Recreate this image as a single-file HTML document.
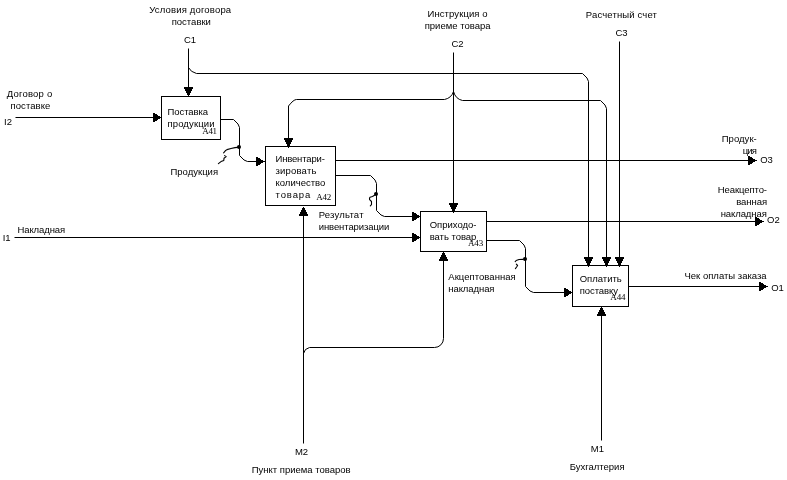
<!DOCTYPE html>
<html lang="ru">
<head>
<meta charset="utf-8">
<title>IDEF0 A4</title>
<style>
html,body{margin:0;padding:0;background:#fff;}
body{width:787px;height:480px;overflow:hidden;}
svg{display:block;}
.s{font-family:"Liberation Sans",sans-serif;font-size:9.5px;fill:#000;}
.n{font-family:"Liberation Serif",serif;font-size:9px;fill:#000;}
.l{fill:none;stroke:#000;stroke-width:1;shape-rendering:crispEdges;}
.p{fill:none;stroke:#000;stroke-width:1;stroke-linejoin:round;}
.c{fill:none;stroke:#000;stroke-width:1.1;stroke-linejoin:round;stroke-linecap:round;}
.d{fill:#000;}
.a{fill:#000;stroke:none;shape-rendering:crispEdges;}
</style>
</head>
<body>
<svg width="787" height="480" viewBox="0 0 787 480">
<rect x="0" y="0" width="787" height="480" fill="#fff"/>
<g class="l">
<rect x="161.5" y="96.5" width="59" height="43"/>
<rect x="265.5" y="146.5" width="70" height="59"/>
<rect x="420.5" y="211.5" width="66" height="40"/>
<rect x="572.5" y="265.5" width="56" height="41"/>
</g>
<g class="p">
<path d="M188.5 48.5L188.5 96.5"/>
<path d="M188.5 67.5Q190.5 72.0 196.5 73.5L582.5 73.5Q588.5 78.5 588.5 81.5L588.5 265.5"/>
<path d="M453.5 52.5L453.5 211.5"/>
<path d="M453.5 91.5Q451.5 98.0 444.5 99.5L296.5 99.5Q293.5 99.5 288.5 106.0L288.5 146.5"/>
<path d="M453.5 91.5Q455.5 99.0 462.5 100.5L600.5 100.5Q606.5 105.5 606.5 108.5L606.5 265.5"/>
<path d="M619.5 41.5L619.5 265.5"/>
<path d="M15.5 117.5L161.5 117.5"/>
<path d="M220.5 119.5L233.5 119.5Q239.5 124.5 239.5 127.5L239.5 155.5Q244.5 161.5 247.5 161.5L265.5 161.5"/>
<path d="M335.5 160.5L755.5 160.5"/>
<path d="M335.5 175.5L370.5 175.5Q376.5 180.5 376.5 183.5L376.5 210.5Q381.5 216.5 384.5 216.5L420.5 216.5"/>
<path d="M14.5 237.5L420.5 237.5"/>
<path d="M486.5 221.5L762.5 221.5"/>
<path d="M486.5 240.5L519.5 240.5Q525.5 245.5 525.5 248.5L525.5 286.5Q530.5 292.5 533.5 292.5L572.5 292.5"/>
<path d="M628.5 286.5L766.5 286.5"/>
<path d="M303.5 443.5L303.5 208.5"/>
<path d="M303.5 353.5Q304.5 348.5 309.5 347.5L434.5 347.5A9 9 0 0 0 443.5 338.5L443.5 251.5"/>
<path d="M601.5 440.5L601.5 306.5"/>
</g>
<g class="c">
<path d="M237.5 147.4L235 147.6L231 148.5L227 149.6L225.3 150.8L223.6 152.8M224.6 155.6L226.2 156.6L224 158.3L223.8 160.4L221 161.6L218.4 163.6"/>
<path d="M374.5 195.3L372.5 196.5L370 197.2L369.5 198.3L369.6 199.6L371.5 201.5L371.5 204.6L370.3 205.8"/>
<path d="M523 259.4L519 259.5L516.2 260.5L515.2 261.7M516.3 264.2L517.6 265.5L516.6 267L515.4 268.6"/>
</g>
<g class="a">
<polygon points="188.5,97 183.5,87 193.5,87"/>
<polygon points="588.5,267 583.5,257 593.5,257"/>
<polygon points="453.5,213 448.5,203 458.5,203"/>
<polygon points="288.5,148 283.5,138 293.5,138"/>
<polygon points="606.5,267 601.5,257 611.5,257"/>
<polygon points="619.5,267 614.5,257 624.5,257"/>
<polygon points="162,117.5 153,112.5 153,122.5"/>
<polygon points="265,161.5 256,156.5 256,166.5"/>
<polygon points="757,160.5 748,155.5 748,165.5"/>
<polygon points="421,216.5 412,211.5 412,221.5"/>
<polygon points="421,237.5 412,232.5 412,242.5"/>
<polygon points="764,221.5 755,216.5 755,226.5"/>
<polygon points="573,292.5 564,287.5 564,297.5"/>
<polygon points="768,286.5 759,281.5 759,291.5"/>
<polygon points="303.0,207 304.0,207 308.5,216 298.5,216"/>
<polygon points="443.5,251 438.5,261 448.5,261"/>
<polygon points="601.5,306 596.5,316 606.5,316"/>
</g>
<g class="d">
<circle cx="239" cy="147" r="2"/>
<circle cx="376" cy="194" r="2"/>
<circle cx="525" cy="259" r="2"/>
</g>
<g>
<text class="s" x="149.2" y="13.0" style="letter-spacing:0.17px">Условия договора</text>
<text class="s" x="171.7" y="24.7">поставки</text>
<text class="s" x="184.0" y="43.0">C1</text>
<text class="s" x="427.5" y="16.7" style="letter-spacing:0.09px">Инструкция о</text>
<text class="s" x="424.7" y="28.7">приеме товара</text>
<text class="s" x="451.5" y="46.7">C2</text>
<text class="s" x="585.8" y="17.5" style="letter-spacing:0.15px">Расчетный счет</text>
<text class="s" x="615.4" y="35.8">C3</text>
<text class="s" x="6.7" y="97.0" style="letter-spacing:0.22px">Договор о</text>
<text class="s" x="10.5" y="108.7" style="letter-spacing:0.07px">поставке</text>
<text class="s" x="4.0" y="124.7">I2</text>
<text class="s" x="17.5" y="232.5" style="letter-spacing:-0.10px">Накладная</text>
<text class="s" x="2.7" y="241.3">I1</text>
<text class="s" x="167.5" y="115.0" style="letter-spacing:-0.07px">Поставка</text>
<text class="s" x="167.5" y="126.7" style="letter-spacing:0.12px">продукции</text>
<text class="n" x="202.3" y="133.6" style="letter-spacing:-0.35px">A41</text>
<text class="s" x="170.5" y="174.7">Продукция</text>
<text class="s" x="275.5" y="161.7" style="letter-spacing:-0.17px">Инвентари-</text>
<text class="s" x="275.5" y="173.7" style="letter-spacing:0.19px">зировать</text>
<text class="s" x="275.5" y="185.8">количество</text>
<text class="s" x="275.5" y="198.0" style="letter-spacing:0.90px">товара</text>
<text class="n" x="316.3" y="199.7" style="letter-spacing:-0.25px">A42</text>
<text class="s" x="318.7" y="218.0" style="letter-spacing:0.20px">Результат</text>
<text class="s" x="318.7" y="229.7" style="letter-spacing:-0.09px">инвентаризации</text>
<text class="s" x="429.7" y="228.0">Оприходо-</text>
<text class="s" x="429.7" y="239.7" style="letter-spacing:-0.04px">вать товар</text>
<text class="n" x="468.0" y="246.0" style="letter-spacing:-0.15px">A43</text>
<text class="s" x="448.3" y="280.0" style="letter-spacing:0.04px">Акцептованная</text>
<text class="s" x="448.3" y="291.7" style="letter-spacing:-0.08px">накладная</text>
<text class="s" x="579.7" y="281.7">Оплатить</text>
<text class="s" x="579.7" y="293.7" style="letter-spacing:-0.06px">поставку</text>
<text class="n" x="610.3" y="300.3" style="letter-spacing:-0.15px">A44</text>
<text class="s" x="721.7" y="142.0" style="letter-spacing:0.05px">Продук-</text>
<text class="s" x="742.8" y="153.5" style="letter-spacing:-0.90px">ция</text>
<text class="s" x="760.2" y="163.0">O3</text>
<text class="s" x="717.8" y="192.5" style="letter-spacing:-0.09px">Неакцепто-</text>
<text class="s" x="736.2" y="204.7" style="letter-spacing:-0.04px">ванная</text>
<text class="s" x="720.7" y="216.7" style="letter-spacing:-0.09px">накладная</text>
<text class="s" x="767.1" y="223.0">O2</text>
<text class="s" x="684.5" y="278.7">Чек оплаты заказа</text>
<text class="s" x="771.2" y="290.8">O1</text>
<text class="s" x="294.9" y="454.7">M2</text>
<text class="s" x="251.7" y="472.8">Пункт приема товаров</text>
<text class="s" x="590.8" y="451.7">M1</text>
<text class="s" x="569.7" y="469.7">Бухгалтерия</text>
</g>
</svg>
</body>
</html>
